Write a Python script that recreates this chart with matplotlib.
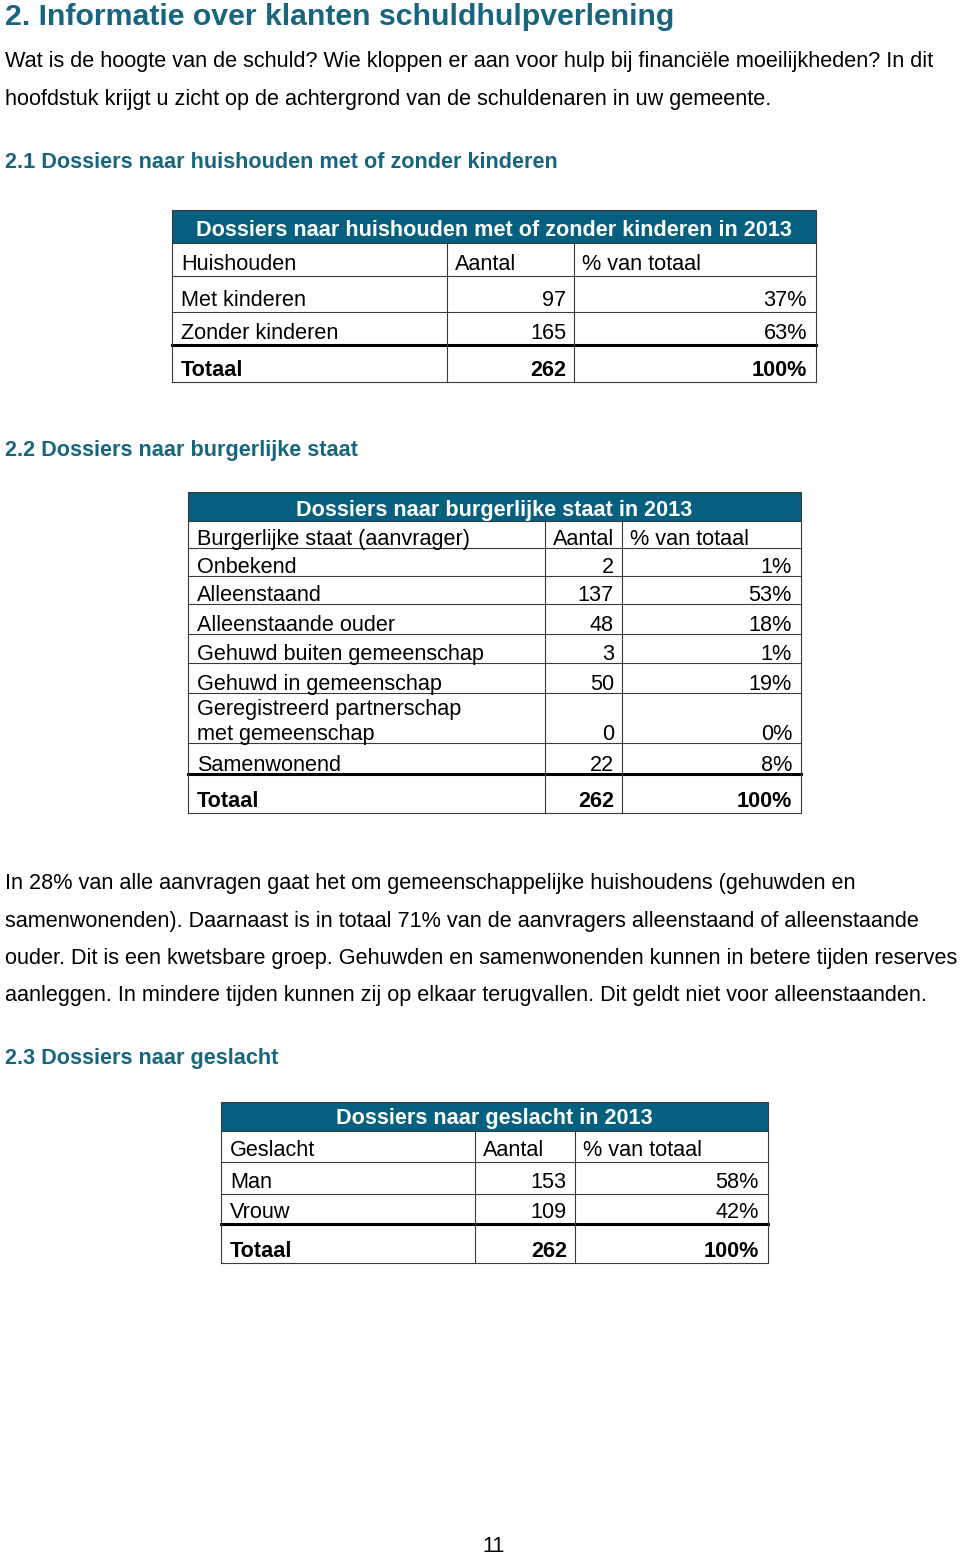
# Pagina 11: informatie over klanten schuldhulpverlening (drie tabellen)
import matplotlib.pyplot as plt
from matplotlib.patches import Rectangle

plt.rcParams['font.family'] = ['Liberation Sans', 'DejaVu Sans']

TEAL = '#05607f'
HEAD = '#17657f'
LINE = '#3a3a3a'

# --- data ---------------------------------------------------------------
title = "2. Informatie over klanten schuldhulpverlening"
intro = ["Wat is de hoogte van de schuld? Wie kloppen er aan voor hulp bij financiële moeilijkheden? In dit",
         "hoofdstuk krijgt u zicht op de achtergrond van de schuldenaren in uw gemeente."]

kop1 = "2.1 Dossiers naar huishouden met of zonder kinderen"
t1_title = "Dossiers naar huishouden met of zonder kinderen in 2013"
t1_head = ["Huishouden", "Aantal", "% van totaal"]
t1_labels = ["Met kinderen", "Zonder kinderen"]
t1_aantal = [97, 165]
t1_pct = [37, 63]
t1_totaal = (262, 100)

kop2 = "2.2 Dossiers naar burgerlijke staat"
t2_title = "Dossiers naar burgerlijke staat in 2013"
t2_head = ["Burgerlijke staat (aanvrager)", "Aantal", "% van totaal"]
t2_labels = ["Onbekend", "Alleenstaand", "Alleenstaande ouder", "Gehuwd buiten gemeenschap",
             "Gehuwd in gemeenschap", "Geregistreerd partnerschap\nmet gemeenschap", "Samenwonend"]
t2_aantal = [2, 137, 48, 3, 50, 0, 22]
t2_pct = [1, 53, 18, 1, 19, 0, 8]
t2_totaal = (262, 100)

tekst2 = ["In 28% van alle aanvragen gaat het om gemeenschappelijke huishoudens (gehuwden en",
          "samenwonenden). Daarnaast is in totaal 71% van de aanvragers alleenstaand of alleenstaande",
          "ouder. Dit is een kwetsbare groep. Gehuwden en samenwonenden kunnen in betere tijden reserves",
          "aanleggen. In mindere tijden kunnen zij op elkaar terugvallen. Dit geldt niet voor alleenstaanden."]

kop3 = "2.3 Dossiers naar geslacht"
t3_title = "Dossiers naar geslacht in 2013"
t3_head = ["Geslacht", "Aantal", "% van totaal"]
t3_labels = ["Man", "Vrouw"]
t3_aantal = [153, 109]
t3_pct = [58, 42]
t3_totaal = (262, 100)

paginanummer = "11"

# --- figuur in pixelcoordinaten ------------------------------------------
fig = plt.figure(figsize=(9.6, 15.54), dpi=100)
ax = fig.add_axes([0, 0, 1, 1])
ax.set_xlim(0, 960)
ax.set_ylim(1554, 0)
ax.axis('off')

FS = 15.6


def draw_table(cols, rows_y, ttl, head, labels, aantal, pct, totaal, off=6, toff=7):
    x0, x1, x2, x3 = cols
    top = rows_y[0]
    # kopbalk
    ax.add_patch(Rectangle((x0, top), x3 - x0, rows_y[1] - top, facecolor=TEAL, edgecolor=LINE, lw=0.8))
    ax.text((x0 + x3) / 2, rows_y[1] - toff, ttl, color='white', fontsize=FS, fontweight='bold',
            ha='center', va='baseline')
    # kolomkoppen
    b = rows_y[2] - off
    ax.text(x0 + 9, b, head[0], fontsize=FS, va='baseline')
    ax.text(x1 + 8, b, head[1], fontsize=FS, va='baseline')
    ax.text(x2 + 8, b, head[2], fontsize=FS, va='baseline')
    # rijen
    for i, (lab, n, p) in enumerate(zip(labels, aantal, pct)):
        b = rows_y[i + 3] - off
        ax.text(x0 + 9, b, lab, fontsize=FS, va='baseline', linespacing=1.25)
        ax.text(x2 - 8, b, str(n), fontsize=FS, va='baseline', ha='right')
        ax.text(x3 - 9, b, f"{p}%", fontsize=FS, va='baseline', ha='right')
    b = rows_y[-1] - 6
    ax.text(x0 + 9, b, "Totaal", fontsize=FS, va='baseline', fontweight='bold')
    ax.text(x2 - 8, b, str(totaal[0]), fontsize=FS, va='baseline', ha='right', fontweight='bold')
    ax.text(x3 - 9, b, f"{totaal[1]}%", fontsize=FS, va='baseline', ha='right', fontweight='bold')
    # lijnen
    ybot = rows_y[-1]
    for y in rows_y[2:-2]:
        ax.plot([x0, x3], [y, y], color=LINE, lw=0.8)
    ax.plot([x0, x3], [rows_y[-2], rows_y[-2]], color='black', lw=2.2)
    ax.plot([x0, x3], [ybot, ybot], color=LINE, lw=0.8)
    for x in (x0, x3):
        ax.plot([x, x], [rows_y[1], ybot], color=LINE, lw=0.8)
    for x in (x1, x2):
        ax.plot([x, x], [rows_y[1], ybot], color=LINE, lw=0.8)


ax.text(5, 25, title, color=HEAD, fontsize=21.8, fontweight='bold', va='baseline')
for i, line in enumerate(intro):
    ax.text(5, 67 + i * 37.5, line, fontsize=FS, va='baseline')

ax.text(5, 168, kop1, color=HEAD, fontsize=FS, fontweight='bold', va='baseline')
draw_table((172, 447, 574, 816), [210, 243, 276, 312, 345, 382],
           t1_title, t1_head, t1_labels, t1_aantal, t1_pct, t1_totaal)

ax.text(5, 456, kop2, color=HEAD, fontsize=FS, fontweight='bold', va='baseline')
draw_table((188, 545, 622, 801), [492, 521, 548, 576, 604, 634, 663, 693, 743, 774, 813],
           t2_title, t2_head, t2_labels, t2_aantal, t2_pct, t2_totaal, off=3, toff=5)

for i, line in enumerate(tekst2):
    ax.text(5, 889 + i * 37.5, line, fontsize=FS, va='baseline')

ax.text(5, 1064, kop3, color=HEAD, fontsize=FS, fontweight='bold', va='baseline')
draw_table((221, 475, 575, 768), [1102, 1131, 1162, 1194, 1224, 1263],
           t3_title, t3_head, t3_labels, t3_aantal, t3_pct, t3_totaal)

ax.text(494, 1552, paginanummer, fontsize=FS, ha='center', va='baseline')

fig.savefig("out.png", dpi=100)
